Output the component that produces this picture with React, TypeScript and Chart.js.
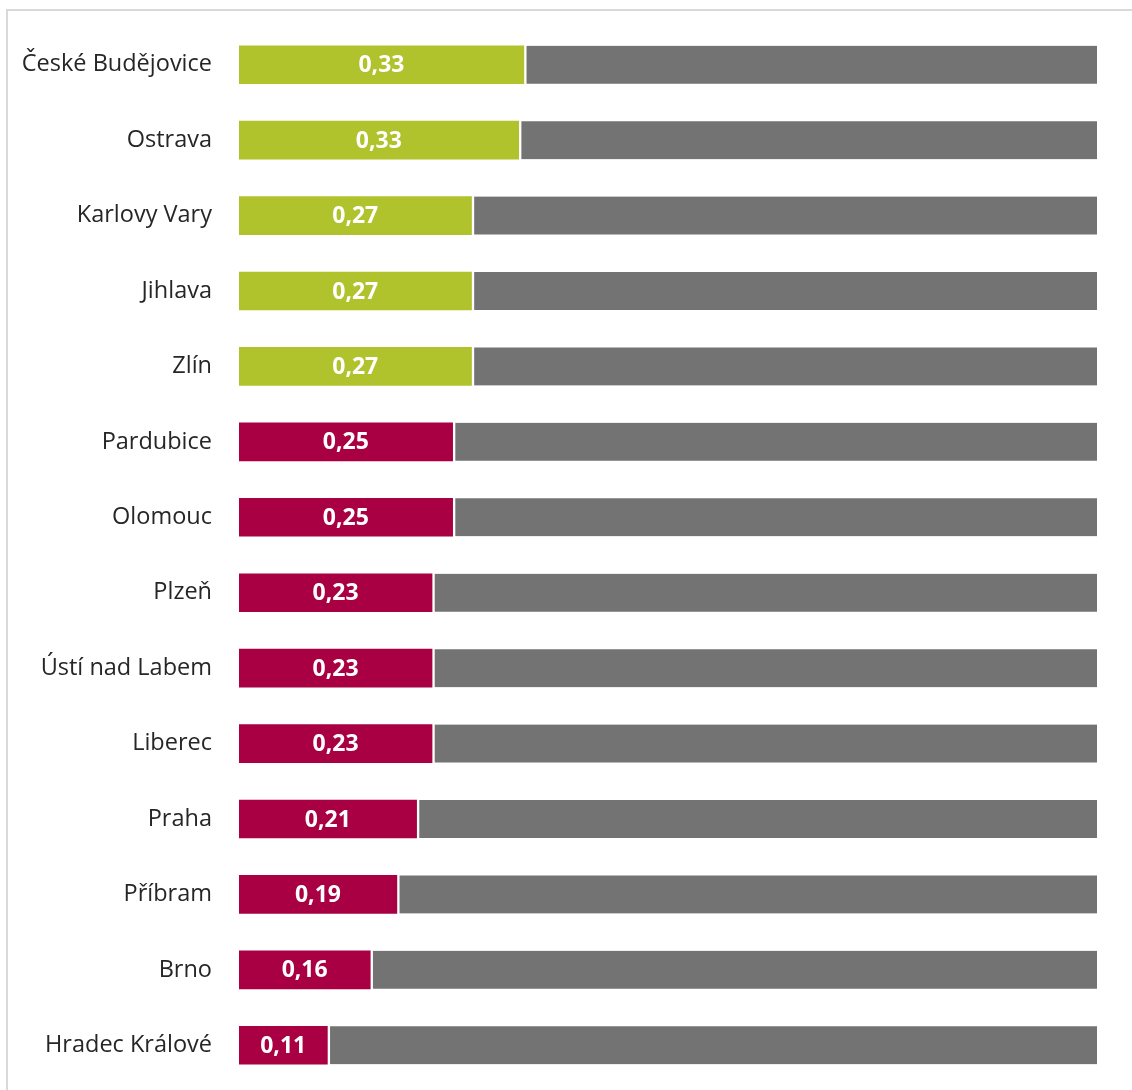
import React, { useEffect, useRef } from "react";
import { Chart, registerables } from "chart.js";

Chart.register(...registerables);

const categories = [
  "České Budějovice",
  "Ostrava",
  "Karlovy Vary",
  "Jihlava",
  "Zlín",
  "Pardubice",
  "Olomouc",
  "Plzeň",
  "Ústí nad Labem",
  "Liberec",
  "Praha",
  "Příbram",
  "Brno",
  "Hradec Králové",
];

const values = [0.332, 0.326, 0.271, 0.271, 0.271, 0.249, 0.249, 0.225, 0.225, 0.225, 0.207, 0.184, 0.153, 0.103];
const valueLabels = ["0,33", "0,33", "0,27", "0,27", "0,27", "0,25", "0,25", "0,23", "0,23", "0,23", "0,21", "0,19", "0,16", "0,11"];
const groups = ["top", "top", "top", "top", "top", "low", "low", "low", "low", "low", "low", "low", "low", "low"];
const remainder = values.map((v) => 1 - v);

const GREEN = "#b0c22c";
const RED = "#a80042";
const GREY = "#737373";

const labelPlugin = {
  id: "valueLabels",
  afterDatasetsDraw(chart: any) {
    const ctx = chart.ctx;
    const meta = chart.getDatasetMeta(0);
    ctx.save();
    ctx.fillStyle = "#ffffff";
    ctx.font = "bold 23px 'Open Sans', sans-serif";
    ctx.textAlign = "center";
    ctx.textBaseline = "middle";
    meta.data.forEach((bar: any, i: number) => {
      const cx = (bar.x + bar.base) / 2;
      ctx.fillText(valueLabels[i], cx, bar.y + 1);
    });
    ctx.restore();
  },
};

export default function App() {
  const ref = useRef<HTMLCanvasElement>(null);
  useEffect(() => {
    if (!ref.current) return;
    const chart = new Chart(ref.current, {
      type: "bar",
      data: {
        labels: categories,
        datasets: [
          {
            data: values,
            backgroundColor: groups.map((g) => (g === "top" ? GREEN : RED)),
            borderWidth: 0,
            barThickness: 38,
          },
          {
            data: remainder,
            backgroundColor: GREY,
            borderColor: "#ffffff",
            borderWidth: { left: 3, right: 0, top: 0, bottom: 0 },
            borderSkipped: false,
            barThickness: 38,
          },
        ],
      },
      options: {
        indexAxis: "y",
        animation: false,
        responsive: false,
        maintainAspectRatio: false,
        layout: { padding: { left: 0, right: 35, top: 27, bottom: 7 } },
        plugins: { legend: { display: false }, tooltip: { enabled: false } },
        scales: {
          x: { stacked: true, min: 0, max: 1, display: false },
          y: {
            stacked: true,
            grid: { display: false, drawTicks: false },
            border: { display: false },
            ticks: {
              color: "#262626",
              padding: 27,
              font: { family: "'Open Sans', sans-serif", size: 23.5 },
            },
            afterFit: (scale: any) => {
              scale.width = 239;
              scale.paddingTop = 0;
              scale.paddingBottom = 0;
            },
          },
        },
      },
      plugins: [labelPlugin],
    } as any);
    return () => chart.destroy();
  }, []);

  return (
    <div style={{ position: "absolute", left: 0, top: 0, width: 1132, height: 1090, background: "#fff", overflow: "hidden" }}>
      <div style={{ position: "absolute", left: 6, top: 9, width: 1200, height: 1200, borderTop: "2px solid #d9d9d9", borderLeft: "2px solid #d9d9d9" }} />
      <canvas ref={ref} width={1132} height={1090} style={{ position: "absolute", left: 0, top: 0 }} />
    </div>
  );
}
